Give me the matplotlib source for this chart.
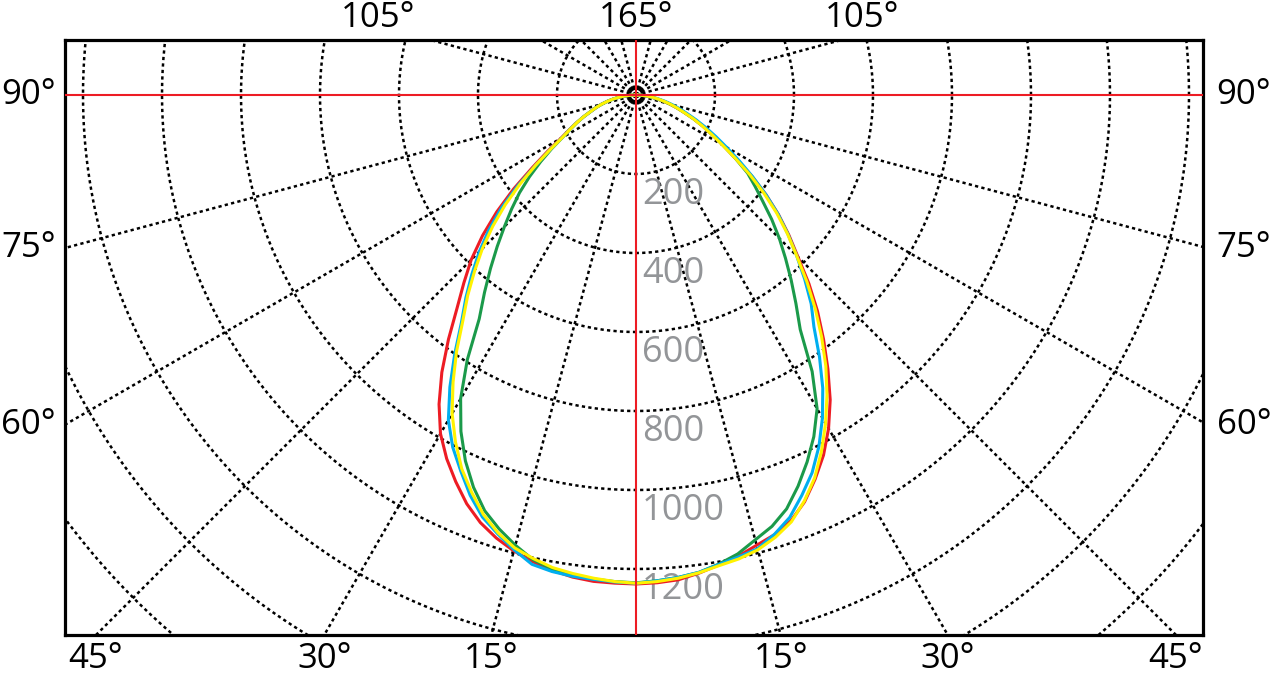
import matplotlib
matplotlib.use('Agg')
import numpy as np
import matplotlib.pyplot as plt

# gamma angle from nadir (deg) and luminous intensity (cd) for each half plane
gamma = np.arange(0, 90.1, 2.5)

red_left = [1238, 1237, 1236, 1231, 1222, 1210, 1195, 1176, 1152, 1120, 1080, 1038, 990, 928,
            857, 780, 705, 645, 590, 527, 460, 390, 320, 265, 220, 190, 166, 143, 122, 106,
            91, 75, 59, 43, 28, 14, 0]
red_right = [1238, 1236, 1232, 1221, 1208, 1196, 1180, 1167, 1147, 1115, 1073, 1028, 975, 915,
             847, 780, 715, 648, 580, 525, 471, 415, 358, 300, 255, 218, 187, 158, 131, 109,
             89, 70, 51, 38, 25, 12, 0]
blue_left = [1236, 1234, 1231, 1229, 1225, 1217, 1192, 1165, 1137, 1097, 1050, 1005, 950, 877,
             800, 726, 670, 615, 561, 505, 445, 378, 310, 258, 215, 188, 165, 143, 122, 106,
             90, 74, 58, 43, 28, 14, 0]
blue_right = [1236, 1231, 1226, 1219, 1207, 1198, 1189, 1166, 1138, 1097, 1055, 1003, 944, 880,
              810, 740, 690, 632, 575, 522, 470, 415, 360, 310, 265, 228, 195, 165, 138, 116,
              96, 77, 58, 42, 27, 13, 0]
yellow_left = [1236, 1233, 1228, 1222, 1215, 1202, 1187, 1162, 1130, 1088, 1044, 990, 931, 862,
               792, 720, 663, 605, 550, 492, 432, 370, 310, 258, 215, 188, 165, 143, 122, 106,
               90, 74, 58, 43, 28, 14, 0]
yellow_right = [1236, 1233, 1228, 1220, 1210, 1203, 1192, 1174, 1150, 1113, 1070, 1017, 960, 900,
                838, 772, 706, 640, 575, 520, 465, 408, 352, 298, 252, 216, 185, 157, 130, 109,
                90, 72, 55, 40, 25, 12, 0]
green_left = [1235, 1233, 1230, 1226, 1219, 1205, 1180, 1152, 1120, 1075, 1022, 960, 888, 795,
              692, 630, 573, 520, 471, 427, 385, 340, 295, 253, 215, 188, 165, 143, 122, 106,
              90, 74, 58, 43, 28, 14, 0]
green_right = [1235, 1231, 1226, 1219, 1206, 1190, 1166, 1145, 1115, 1072, 1025, 975, 917, 830,
               725, 665, 611, 560, 513, 466, 419, 380, 345, 298, 255, 218, 187, 158, 131, 109,
               89, 70, 51, 38, 25, 12, 0]

ring_values = [200, 400, 600, 800, 1000, 1200]
bottom_angles = [45, 30, 15]
side_angles = [90, 75, 60]
top_labels = ['105°', '165°', '105°']

RED = '#ED1C24'
BLUE = '#00AEEF'
YELLOW = '#FFF200'
GREEN = '#1B9A4A'
GRAY = '#939598'

plt.rcParams['font.family'] = ['Open Sans', 'DejaVu Sans']

W, H = 1271, 674
cx, cy = 636, 95          # pixel position of the polar centre
scale = 0.395             # pixels per cd
left, right, top, bottom = 65, 1203, 40, 635

fig = plt.figure(figsize=(W / 100, H / 100), dpi=100)
ax = fig.add_axes([left / W, (H - bottom) / H, (right - left) / W, (bottom - top) / H])
ax.set_xlim((left - cx) / scale, (right - cx) / scale)
ax.set_ylim(-(bottom - cy) / scale, (cy - top) / scale)
ax.set_xticks([])
ax.set_yticks([])
for s in ax.spines.values():
    s.set_linewidth(2.3)
    s.set_color('black')

dots = (0, (1.3, 1.3))

# grid circles
t = np.linspace(0, 2 * np.pi, 721)
for r in range(200, 2201, 200):
    ax.plot(r * np.cos(t), r * np.sin(t), color='black', lw=1.8, ls=dots, zorder=1)

# radial rays every 15 degrees
for a in range(0, 360, 15):
    if a % 90 == 0:
        continue
    ang = np.radians(a)
    ax.plot([0, 3000 * np.sin(ang)], [0, -3000 * np.cos(ang)], color='black', lw=1.8, ls=dots, zorder=1)

# centre ring
ax.plot(18 * np.cos(t), 18 * np.sin(t), color='black', lw=2.8, zorder=2)

# ring value labels
for v in ring_values:
    ax.annotate(str(v), xy=(0, -v), xytext=(6, -21), textcoords='offset pixels',
                color=GRAY, fontsize=26, ha='left', va='center', zorder=2)


def curve(left_vals, right_vals):
    g = np.radians(gamma)
    lv = np.array(left_vals, dtype=float)
    rv = np.array(right_vals, dtype=float)
    x = np.concatenate([-(lv * np.sin(g))[::-1], (rv * np.sin(g))[1:]])
    y = np.concatenate([-(lv * np.cos(g))[::-1], -(rv * np.cos(g))[1:]])
    return x, y


for lv, rv, c in [(red_left, red_right, RED), (green_left, green_right, GREEN),
                  (blue_left, blue_right, BLUE), (yellow_left, yellow_right, YELLOW)]:
    x, y = curve(lv, rv)
    ax.plot(x, y, color=c, lw=2.2, zorder=3, solid_joinstyle='round')

# red axes through the centre
ax.axvline(0, color=RED, lw=1.5, zorder=4)
ax.axhline(0, color=RED, lw=1.5, zorder=4)

# angle labels
ylo = ax.get_ylim()[0]
xlo, xhi = ax.get_xlim()
for a in bottom_angles:
    for sgn in (-1, 1):
        xd = sgn * abs(ylo) * np.tan(np.radians(a))
        ax.text(xd, -0.04, f'{a}°', transform=ax.get_xaxis_transform(),
                ha='center', va='center', fontsize=25, clip_on=False)
for a in side_angles:
    yd = 0 if a == 90 else -abs(xlo) / np.tan(np.radians(a))
    ax.text(-0.032, yd, f'{a}°', transform=ax.get_yaxis_transform(),
            ha='center', va='center', fontsize=25, clip_on=False)
    ax.text(1.036, yd, f'{a}°', transform=ax.get_yaxis_transform(),
            ha='center', va='center', fontsize=25, clip_on=False)
for xp, lab in zip([378, 636, 862], top_labels):
    fig.text(xp / W, 1 - 18 / H, lab, ha='center', va='center', fontsize=25)

fig.savefig('out.png', dpi=100)
